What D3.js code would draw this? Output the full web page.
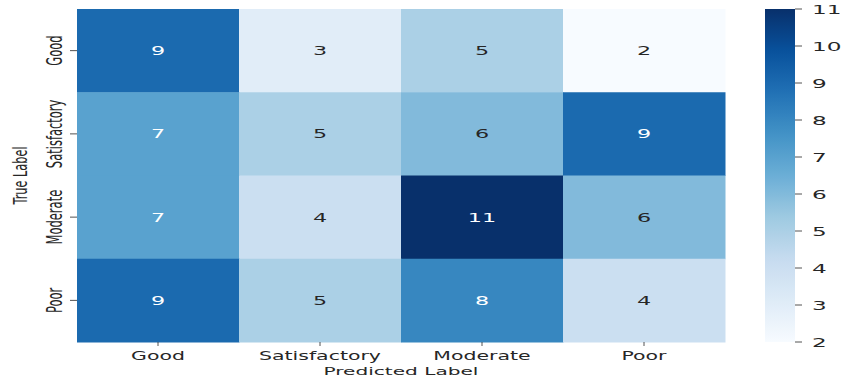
<!DOCTYPE html>
<html>
<head>
<meta charset="utf-8">
<script src="https://cdn.jsdelivr.net/npm/d3@7"></script>
<style>
  html, body { margin: 0; padding: 0; background: #fff; }
  svg { display: block; font-family: "DejaVu Sans", sans-serif; }
</style>
</head>
<body>
<svg id="chart" width="848" height="382"></svg>
<script>
// Confusion matrix: rows = true label, columns = predicted label
const classes = ["Good", "Satisfactory", "Moderate", "Poor"];
const rowGood = [9, 3, 5, 2];
const rowSatisfactory = [7, 5, 6, 9];
const rowModerate = [7, 4, 11, 6];
const rowPoor = [9, 5, 8, 4];
const colorbarTicks = [2, 3, 4, 5, 6, 7, 8, 9, 10, 11];
const xTitle = "Predicted Label";
const yTitle = "True Label";

const matrix = [rowGood, rowSatisfactory, rowModerate, rowPoor];
const cells = [];
matrix.forEach((row, i) => row.forEach((v, j) => cells.push({ t: classes[i], p: classes[j], v })));

const plot = { left: 77, right: 725, top: 9, bottom: 342 };
const cbar = { left: 765, right: 795 };
const sx = 1.78; // horizontal stretch applied to all text

const svg = d3.select("#chart");

const x = d3.scaleBand().domain(classes).range([plot.left, plot.right]);
const y = d3.scaleBand().domain(classes).range([plot.top, plot.bottom]);

// Blues colormap as piecewise-linear ramp between ColorBrewer stops
const blues = ["#f7fbff", "#deebf7", "#c6dbef", "#9ecae1", "#6baed6", "#4292c6", "#2171b5", "#08519c", "#08306b"];
const vmin = d3.min(colorbarTicks), vmax = d3.max(colorbarTicks);
const color = d3.scaleLinear()
  .domain(d3.range(blues.length).map(k => vmin + (vmax - vmin) * k / (blues.length - 1)))
  .range(blues)
  .interpolate(d3.interpolateRgb)
  .clamp(true);

function luminance(c) {
  const rgb = d3.rgb(c);
  const f = u => { u /= 255; return u <= 0.03928 ? u / 12.92 : Math.pow((u + 0.055) / 1.055, 2.4); };
  return 0.2126 * f(rgb.r) + 0.7152 * f(rgb.g) + 0.0722 * f(rgb.b);
}

// heatmap cells
svg.append("g").selectAll("rect").data(cells).join("rect")
  .attr("x", d => x(d.p))
  .attr("y", d => y(d.t))
  .attr("width", x.bandwidth() + 0.5)
  .attr("height", y.bandwidth() + 0.5)
  .attr("fill", d => color(d.v));

// annotations
svg.append("g").selectAll("text").data(cells).join("text")
  .attr("transform", d => `translate(${x(d.p) + x.bandwidth() / 2},${y(d.t) + y.bandwidth() / 2}) scale(${sx},1)`)
  .attr("text-anchor", "middle")
  .attr("dy", "0.36em")
  .attr("font-size", 12.5)
  .attr("fill", d => luminance(color(d.v)) < 0.408 ? "#ffffff" : "#262626")
  .text(d => d.v);

// x axis ticks + labels
const xg = svg.append("g");
xg.selectAll("line").data(classes).join("line")
  .attr("x1", d => x(d) + x.bandwidth() / 2).attr("x2", d => x(d) + x.bandwidth() / 2)
  .attr("y1", plot.bottom).attr("y2", plot.bottom + 4)
  .attr("stroke", "#262626").attr("stroke-width", 0.8);
xg.selectAll("text").data(classes).join("text")
  .attr("transform", d => `translate(${x(d) + x.bandwidth() / 2},${plot.bottom + 17.5}) scale(${sx},1)`)
  .attr("text-anchor", "middle")
  .attr("font-size", 11.5)
  .attr("fill", "#262626")
  .text(d => d);

// y axis ticks + labels
const yg = svg.append("g");
yg.selectAll("line").data(classes).join("line")
  .attr("x1", plot.left - 7).attr("x2", plot.left)
  .attr("y1", d => y(d) + y.bandwidth() / 2).attr("y2", d => y(d) + y.bandwidth() / 2)
  .attr("stroke", "#262626").attr("stroke-width", 0.8);
yg.selectAll("text").data(classes).join("text")
  .attr("transform", d => `translate(${plot.left - 15},${y(d) + y.bandwidth() / 2}) scale(${sx},1) rotate(-90)`)
  .attr("text-anchor", "middle")
  .attr("font-size", 11.5)
  .attr("fill", "#262626")
  .text(d => d);

// axis titles
svg.append("text")
  .attr("transform", `translate(${(plot.left + plot.right) / 2},${375}) scale(${sx},1)`)
  .attr("text-anchor", "middle").attr("font-size", 11.3).attr("fill", "#262626")
  .text(xTitle);
svg.append("text")
  .attr("transform", `translate(${27},${(plot.top + plot.bottom) / 2}) scale(${sx},1) rotate(-90)`)
  .attr("text-anchor", "middle").attr("font-size", 11.3).attr("fill", "#262626")
  .text(yTitle);

// colorbar
const cy = d3.scaleLinear().domain([vmin, vmax]).range([plot.bottom, plot.top]);
const defs = svg.append("defs");
const grad = defs.append("linearGradient").attr("id", "cbgrad")
  .attr("x1", 0).attr("y1", 1).attr("x2", 0).attr("y2", 0);
d3.range(0, 1.0001, 0.02).forEach(t => {
  grad.append("stop").attr("offset", t).attr("stop-color", color(vmin + t * (vmax - vmin)));
});
svg.append("rect")
  .attr("x", cbar.left).attr("y", plot.top)
  .attr("width", cbar.right - cbar.left).attr("height", plot.bottom - plot.top)
  .attr("fill", "url(#cbgrad)");
const cg = svg.append("g");
cg.selectAll("line").data(colorbarTicks).join("line")
  .attr("x1", cbar.right).attr("x2", cbar.right + 7)
  .attr("y1", d => cy(d)).attr("y2", d => cy(d))
  .attr("stroke", "#262626").attr("stroke-width", 0.8);
cg.selectAll("text").data(colorbarTicks).join("text")
  .attr("transform", d => `translate(${cbar.right + 17},${cy(d)}) scale(${sx},1)`)
  .attr("dy", "0.36em")
  .attr("font-size", 13)
  .attr("fill", "#262626")
  .text(d => d);
</script>
</body>
</html>
